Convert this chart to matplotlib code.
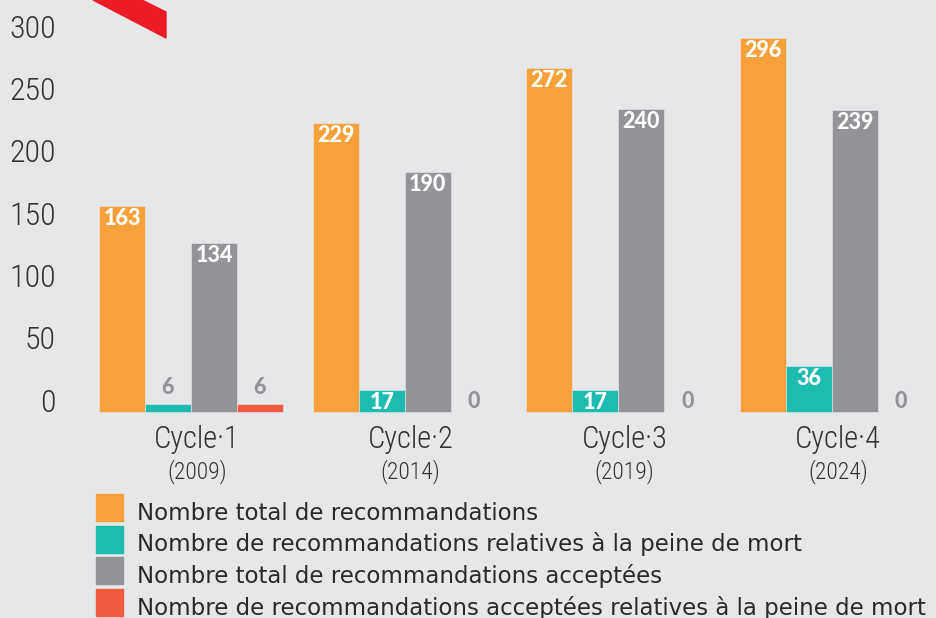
import numpy as np
import matplotlib
matplotlib.use("Agg")
import matplotlib.pyplot as plt
from matplotlib import font_manager
from matplotlib.patches import Polygon, Rectangle

# -----------------------------
# data
# -----------------------------
cycles = ["Cycle·1", "Cycle·2", "Cycle·3", "Cycle·4"]
years = ["(2009)", "(2014)", "(2019)", "(2024)"]
total_reco = [163, 229, 272, 296]
reco_death = [6, 17, 17, 36]
total_accepted = [134, 190, 240, 239]
accepted_death = [6, 0, 0, 0]
series_labels = [
    "Nombre total de recommandations",
    "Nombre de recommandations relatives à la peine de mort",
    "Nombre total de recommandations acceptées",
    "Nombre de recommandations acceptées relatives à la peine de mort",
]
yticks = [0, 50, 100, 150, 200, 250, 300]

# -----------------------------
# style
# -----------------------------
BG = "#e6e7e9"
COLORS = ["#f8a13b", "#1ebbb1", "#939498", "#f05a40"]
STRIPE = "#ed1c24"
TEXT = "#333333"

# pick a condensed face if one is installed
names = {f.name for f in font_manager.fontManager.ttflist}
narrow_kw = {"family": ["DejaVu Sans"], "fontstretch": "condensed"}
for cand in ["Roboto Condensed", "Liberation Sans Narrow", "Open Sans Condensed"]:
    if cand in names:
        narrow_kw = {"family": [cand, "DejaVu Sans"], "fontweight": "light"}
        break
BOLD = {"family": ["Lato", "DejaVu Sans"], "fontweight": "black"}
LEGEND_FONT = ["DejaVu Sans"]

W, H = 936, 618
fig = plt.figure(figsize=(W / 100, H / 100), dpi=100, facecolor=BG)

# axes placed in pixel terms: baseline at y=411.7, 300 at y=33
px_per_group = 213.7
bar_w = 46 / px_per_group
ax_left_px, ax_right_px = 62, 936
base_px, top_px = 411.7, 33
ax = fig.add_axes([ax_left_px / W, 1 - base_px / H,
                   (ax_right_px - ax_left_px) / W, (base_px - top_px) / H])
ax.set_facecolor(BG)
ax.set_xlim((ax_left_px - 191) / px_per_group, (ax_right_px - 191) / px_per_group)
ax.set_ylim(0, 300)

x = np.arange(len(cycles))
series = [total_reco, reco_death, total_accepted, accepted_death]
for j, (vals, col) in enumerate(zip(series, COLORS)):
    pos = x + (j - 1.5) * bar_w
    ax.bar(pos, vals, width=bar_w, color=col, edgecolor=BG, linewidth=0.4, clip_on=False)
    for xi, v in zip(pos, vals):
        if v >= 15:
            ax.annotate(str(v), (xi, v), xytext=(0, -2), textcoords="offset pixels",
                        ha="center", va="top", color="white", fontsize=15.5, **BOLD)
        else:
            off = 6 if v > 0 else 0
            ax.annotate(str(v), (xi, v), xytext=(0, off), textcoords="offset pixels",
                        ha="center", va="bottom", color=COLORS[2], fontsize=15.5, **BOLD)

for s in ax.spines.values():
    s.set_visible(False)
ax.set_xticks([])
ax.set_yticks([])

# y labels sit on their gridline value (bottom aligned)
for t in yticks:
    ax.annotate(str(t), (0, t), xycoords=("axes fraction", "data"),
                xytext=(-6, -0.015 * t), textcoords="offset pixels",
                ha="right", va="baseline", fontsize=23, color=TEXT, **narrow_kw)

# category labels under the groups
for xi, c, yr in zip(x, cycles, years):
    ax.annotate(c, (xi, 0), xytext=(6, -36), textcoords="offset pixels",
                ha="center", va="baseline", fontsize=22, color=TEXT, **narrow_kw)
    ax.annotate(yr, (xi, 0), xytext=(6, -67), textcoords="offset pixels",
                ha="center", va="baseline", fontsize=17, color=TEXT, **narrow_kw)

# decorative stripe at top
fig.patches.append(Polygon([(93 / W, 1), (142 / W, 1), (166 / W, 1 - 12 / H), (166 / W, 1 - 38 / H)],
                           closed=True, transform=fig.transFigure, color=STRIPE))

# legend drawn by hand
for k, (lab, col) in enumerate(zip(series_labels, COLORS)):
    top = 494 + k * 31.7
    fig.patches.append(Rectangle((96 / W, 1 - (top + 27) / H), 27 / W, 27 / H,
                                 transform=fig.transFigure, color=col))
    fig.text(137 / W, 1 - (top + 25.5) / H, lab, fontsize=16.5, family=LEGEND_FONT,
             color="#2a2a2a", va="baseline", ha="left")

fig.savefig("out.png", dpi=100, facecolor=BG)
